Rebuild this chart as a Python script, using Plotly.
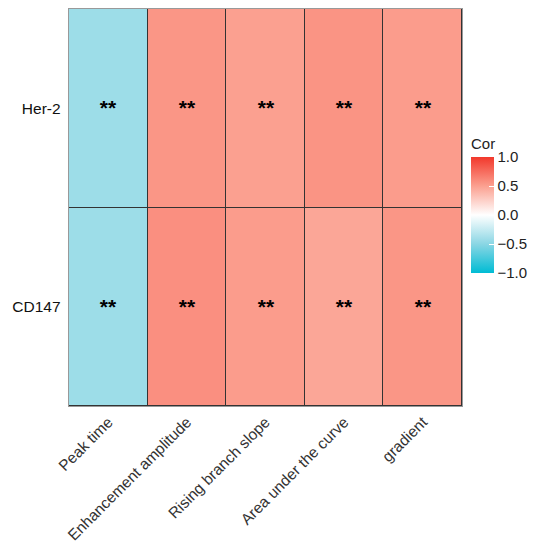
import plotly.graph_objects as go

features = ["Peak time", "Enhancement amplitude", "Rising branch slope", "Area under the curve", "gradient"]
markers = ["Her-2", "CD147"]
her2_cor = [-0.42, 0.55, 0.50, 0.56, 0.52]
cd147_cor = [-0.42, 0.58, 0.52, 0.47, 0.55]
her2_sig = ["**", "**", "**", "**", "**"]
cd147_sig = ["**", "**", "**", "**", "**"]
cbar_ticks = [-1.0, -0.5, 0.0, 0.5, 1.0]

z = [her2_cor, cd147_cor]
txt = [her2_sig, cd147_sig]

colorscale = [
    [0.0, "#00BCD4"],
    [0.25, "#8AD6E4"],
    [0.5, "#FFFFFF"],
    [0.75, "#FBA090"],
    [1.0, "#F2382B"],
]

fig = go.Figure(go.Heatmap(
    z=z, x=features, y=markers, text=txt,
    texttemplate="<b>%{text}</b>",
    textfont=dict(size=21, color="black", family="Liberation Sans"),
    colorscale=colorscale, zmin=-1, zmax=1,
    xgap=1, ygap=1,
    hoverinfo="skip",
    colorbar=dict(
        title=dict(text="Cor", side="top", font=dict(size=15, color="#222", family="Liberation Sans")),
        tickvals=cbar_ticks, tickformat=".1f",
        ticks="inside", tickcolor="white", ticklen=5,
        tickfont=dict(size=15, color="#222", family="Liberation Sans"),
        thickness=23, lenmode="pixels", len=138,
        x=1.023, xanchor="left", y=0.335, yanchor="bottom",
        ypad=0, xpad=0, outlinewidth=0,
    ),
))

fig.update_layout(
    width=528, height=540,
    margin=dict(l=61, r=74, t=1, b=142, autoexpand=False),
    plot_bgcolor="#333333", paper_bgcolor="white",
    font=dict(family="Liberation Sans"),
)
fig.update_xaxes(tickangle=-45, tickfont=dict(size=15.5, color="#333"), showgrid=False, automargin=False,
                 showline=True, mirror=True, linecolor="#999", linewidth=1, ticks="", zeroline=False)
fig.update_yaxes(autorange="reversed", tickfont=dict(size=15.5, color="#111"), showgrid=False, automargin=False,
                 showline=True, mirror=True, linecolor="#999", linewidth=1, ticks="", zeroline=False,
                 ticksuffix=" ")

fig.write_html("out.html")
